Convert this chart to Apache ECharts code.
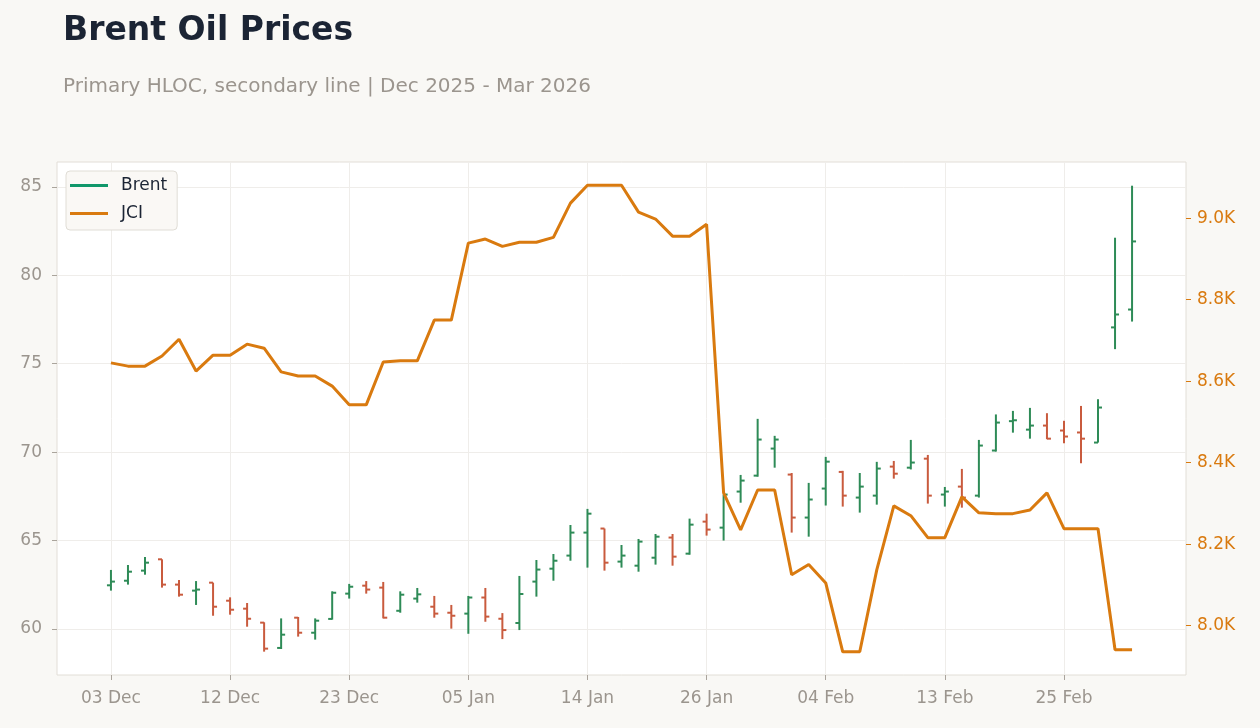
<!DOCTYPE html>
<html>
<head>
<meta charset="utf-8">
<title>Brent Oil Prices</title>
<script src="https://cdn.jsdelivr.net/npm/echarts@6/dist/echarts.min.js"></script>
<style>
  html, body { margin: 0; padding: 0; background: #f9f8f5; }
  #chart { width: 1260px; height: 728px; }
</style>
</head>
<body>
<div id="chart"></div>
<script>
// trading days, Dec 2025 - Mar 2026
const dates = [
  '03 Dec', '04 Dec', '05 Dec', '08 Dec', '09 Dec', '10 Dec', '11 Dec', '12 Dec',
  '15 Dec', '16 Dec', '17 Dec', '18 Dec', '19 Dec', '22 Dec', '23 Dec', '24 Dec',
  '26 Dec', '29 Dec', '30 Dec', '31 Dec', '02 Jan', '05 Jan', '06 Jan', '07 Jan',
  '08 Jan', '09 Jan', '12 Jan', '13 Jan', '14 Jan', '15 Jan', '16 Jan', '20 Jan',
  '21 Jan', '22 Jan', '23 Jan', '26 Jan', '27 Jan', '28 Jan', '29 Jan', '30 Jan',
  '02 Feb', '03 Feb', '04 Feb', '05 Feb', '06 Feb', '09 Feb', '10 Feb', '11 Feb',
  '12 Feb', '13 Feb', '17 Feb', '18 Feb', '19 Feb', '20 Feb', '23 Feb', '24 Feb',
  '25 Feb', '26 Feb', '27 Feb', '02 Mar', '03 Mar'
]

// Brent: open, high, low, close
const brentOpen = [
  62.47, 62.73, 63.30, 63.94, 62.51, 62.17, 62.62, 61.60, 61.15, 60.36,
  58.93, 60.64, 59.79, 60.57, 62.00, 62.45, 62.34, 61.03, 61.72, 61.26,
  60.92, 60.87, 61.78, 60.58, 60.34, 62.68, 63.41, 64.15, 65.45, 65.68,
  63.81, 63.58, 64.03, 65.17, 64.26, 66.07, 65.73, 67.77, 68.67, 70.20,
  68.73, 66.30, 67.94, 68.88, 67.43, 67.54, 69.18, 69.12, 69.63, 67.60,
  68.05, 67.54, 70.09, 71.75, 71.27, 71.50, 71.22, 71.11, 70.54, 77.05,
  78.06
]
const brentHigh = [
  63.34, 63.62, 64.07, 63.94, 62.77, 62.71, 62.62, 61.79, 61.47, 60.38,
  60.60, 60.68, 60.60, 62.13, 62.55, 62.71, 62.66, 62.13, 62.32, 61.87,
  61.36, 61.87, 62.32, 60.90, 63.00, 63.90, 64.24, 65.88, 66.79, 65.68,
  64.75, 65.09, 65.37, 65.37, 66.24, 66.52, 67.60, 68.71, 71.88, 70.92,
  68.82, 68.26, 69.73, 68.94, 68.82, 69.45, 69.50, 70.69, 69.84, 68.03,
  69.05, 70.69, 72.13, 72.33, 72.50, 72.20, 71.77, 72.61, 72.99, 82.12,
  85.06
]
const brentLow = [
  62.17, 62.51, 63.07, 62.34, 61.83, 61.36, 60.75, 60.81, 60.13, 58.72,
  58.87, 59.57, 59.40, 60.53, 61.72, 62.00, 60.60, 60.92, 61.49, 60.64,
  60.02, 59.73, 60.41, 59.43, 59.94, 61.83, 62.73, 63.86, 63.47, 63.30,
  63.47, 63.24, 63.64, 63.58, 64.20, 65.28, 65.00, 67.14, 68.61, 69.12,
  65.45, 65.22, 66.98, 66.92, 66.58, 67.03, 68.50, 69.02, 67.09, 66.92,
  66.86, 67.43, 70.03, 71.10, 70.76, 70.73, 70.50, 69.37, 70.54, 75.82,
  77.38
]
const brentClose = [
  62.68, 63.24, 63.75, 62.51, 61.94, 62.23, 61.26, 61.09, 60.58, 58.89,
  59.68, 59.79, 60.47, 62.05, 62.39, 62.23, 60.64, 61.94, 61.96, 60.87,
  60.75, 61.78, 60.70, 59.94, 61.98, 63.36, 63.86, 65.45, 66.52, 63.75,
  64.15, 64.94, 65.22, 64.09, 65.90, 65.62, 67.60, 68.39, 70.71, 70.71,
  66.30, 67.32, 69.46, 67.54, 68.05, 69.07, 68.78, 69.41, 67.54, 67.77,
  67.43, 70.37, 71.67, 71.80, 71.50, 70.76, 70.88, 70.76, 72.52, 77.78,
  81.91
]

// JCI close (secondary axis)
const jci = [
  8645, 8637, 8637, 8662, 8703, 8625, 8664, 8664, 8691, 8681,
  8623, 8613, 8613, 8588, 8542, 8542, 8647, 8650, 8650, 8750,
  8750, 8939, 8949, 8931, 8941, 8941, 8953, 9037, 9081, 9081,
  9081, 9015, 8998, 8956, 8956, 8985, 8326, 8235, 8333, 8333,
  8125, 8150, 8105, 7936, 7936, 8137, 8294, 8270, 8216, 8216,
  8316, 8277, 8275, 8275, 8284, 8326, 8238, 8238, 8238, 7941,
  7941
]

const brentTicks = [60, 65, 70, 75, 80, 85]
const jciTicks = [8000, 8200, 8400, 8600, 8800, 9000]
const dateTicks = [0, 7, 14, 21, 28, 35, 42, 49, 56]

const upColor = '#2e8b57'
const downColor = '#c95b3e'
const labelGray = '#9b958e'
const jciColor = '#d97a0f'

const ohlc = dates.map((d, i) => [i, brentOpen[i], brentHigh[i], brentLow[i], brentClose[i]])
const jciData = jci.map((v, i) => [i, v])

function renderBar(params, api) {
  const x = api.value(0)
  const o = api.value(1)
  const c = api.value(4)
  const hi = api.coord([x, api.value(2)])
  const lo = api.coord([x, api.value(3)])
  const po = api.coord([x, o])
  const pc = api.coord([x, c])
  const color = c >= o ? upColor : downColor
  const st = { stroke: color, lineWidth: 2 }
  return {
    type: 'group',
    children: [
      { type: 'line', shape: { x1: hi[0], y1: hi[1], x2: lo[0], y2: lo[1] }, style: st },
      { type: 'line', shape: { x1: po[0] - 4, y1: po[1], x2: po[0], y2: po[1] }, style: st },
      { type: 'line', shape: { x1: pc[0], y1: pc[1], x2: pc[0] + 4, y2: pc[1] }, style: st }
    ]
  }
}

const chart = echarts.init(document.getElementById('chart'))
chart.setOption({
  backgroundColor: '#f9f8f5',
  animation: false,
  textStyle: { fontFamily: 'DejaVu Sans' },
  title: [{
    text: 'Brent Oil Prices',
    left: 63,
    top: 15,
    padding: 0,
    textStyle: { fontSize: 33, fontWeight: 'bold', color: '#1b2434', fontFamily: 'DejaVu Sans' }
  }, {
    text: 'Primary HLOC, secondary line | Dec 2025 - Mar 2026',
    left: 63,
    top: 77,
    padding: 0,
    textStyle: { fontSize: 20, fontWeight: 'normal', color: '#9b958e', fontFamily: 'DejaVu Sans' }
  }],
  legend: {
    left: 66,
    top: 171,
    orient: 'vertical',
    padding: [6, 10, 8, 4],
    itemGap: 11,
    itemWidth: 38,
    itemHeight: 3,
    backgroundColor: '#faf8f5',
    borderColor: '#e0ddd6',
    borderWidth: 1,
    borderRadius: 4,
    textStyle: { fontSize: 17, color: '#1b2434', padding: [0, 0, 0, 8] },
    data: [
      { name: 'Brent', icon: 'rect', itemStyle: { color: '#10976a' } },
      { name: 'JCI', icon: 'rect', itemStyle: { color: jciColor } }
    ]
  },
  grid: {
    left: 57, right: 74, top: 162, bottom: 53,
    show: true,
    backgroundColor: '#ffffff',
    borderColor: '#e2ded7',
    borderWidth: 1
  },
  xAxis: {
    type: 'value',
    min: -3.17,
    max: 63.17,
    axisLine: { show: false, onZero: false },
    axisTick: { show: true, length: 5, lineStyle: { color: '#aaa49c' }, customValues: dateTicks },
    axisLabel: {
      customValues: dateTicks,
      color: labelGray, fontSize: 17, margin: 15,
      formatter: v => dates[Math.round(v)] || ''
    },
    splitLine: { show: true, lineStyle: { color: '#efedea', width: 1 } }
  },
  yAxis: [{
    type: 'value',
    position: 'left',
    min: 57.4,
    max: 86.4,
    axisLine: { show: false, onZero: false },
    axisTick: { show: true, length: 5, lineStyle: { color: '#aaa49c' }, customValues: brentTicks },
    axisLabel: { customValues: brentTicks, color: labelGray, fontSize: 17, margin: 15 },
    splitLine: { show: true, lineStyle: { color: '#efedea', width: 1 } }
  }, {
    type: 'value',
    position: 'right',
    min: 7879,
    max: 9138,
    axisLine: { show: false, onZero: false },
    axisTick: { show: true, length: 5, lineStyle: { color: jciColor }, customValues: jciTicks },
    axisLabel: {
      customValues: jciTicks, color: jciColor, fontSize: 17, margin: 11,
      formatter: v => (v / 1000).toFixed(1) + 'K'
    },
    splitLine: { show: false }
  }],
  series: [{
    name: 'Brent',
    type: 'custom',
    renderItem: renderBar,
    itemStyle: { color: '#10976a' },
    encode: { x: 0, y: [1, 2, 3, 4] },
    data: ohlc,
    z: 2
  }, {
    name: 'JCI',
    type: 'line',
    yAxisIndex: 1,
    data: jciData,
    showSymbol: false,
    lineStyle: { color: jciColor, width: 3 },
    itemStyle: { color: jciColor },
    z: 3
  }]
})
</script>
</body>
</html>
